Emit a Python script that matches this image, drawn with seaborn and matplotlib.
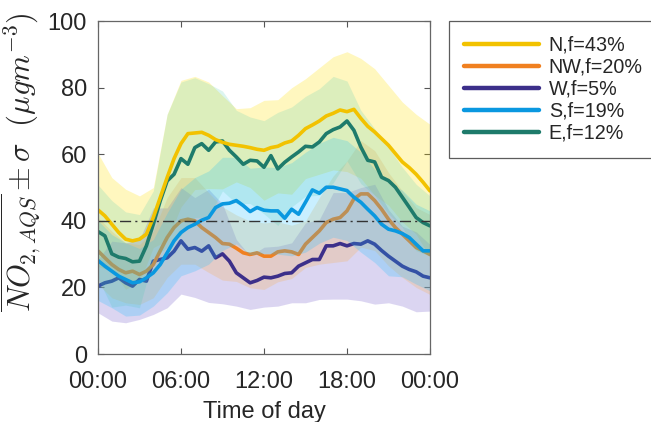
import numpy as np
import pandas as pd
import matplotlib
matplotlib.use("Agg")
import matplotlib.pyplot as plt
import seaborn as sns

# half-hourly means (00:00 .. 24:00)
hours = np.arange(49) * 0.5
n_mean = [43.3, 41.5, 39, 36.5, 34.5, 34, 34.5, 36, 41, 47, 53, 58.7, 63.2, 66.2, 66.4, 66.6, 65.7,
          64.4, 63.6, 63, 62.7, 62.4, 62, 61.5, 61.2, 62, 62.4, 63.4, 64, 65.7, 67.7, 68.8, 70,
          71.5, 72.3, 73.3, 72.8, 73.5, 70.8, 68.4, 66.7, 64.7, 62.7, 60.2, 57.7, 56, 54, 51.6, 49]
nw_mean = [31, 28.9, 26.9, 25.4, 24.4, 24.9, 23.9, 24.9, 26.9, 31, 35, 38, 40, 40.5, 40, 38, 36.5,
           35, 33.2, 33, 31.8, 30.4, 29.9, 30.4, 29.4, 29.4, 30.7, 31, 30.7, 29.9, 33, 35, 37,
           39.5, 40.5, 41, 43, 46.6, 48.1, 48.1, 46.1, 43.5, 40.5, 38, 36, 34, 32, 31, 29.9]
w_mean = [20.4, 21.4, 21.9, 22.9, 21.4, 20.4, 22.4, 21.9, 27.9, 28.4, 28.9, 30.9, 34, 31.5, 32, 30.9,
          32.5, 28.9, 30.1, 27.9, 24.4, 22.9, 21.4, 22.1, 23.1, 22.9, 23.4, 24.2, 24.4, 26.4, 27.4,
          28.4, 28.4, 32.5, 32.5, 33.2, 32.5, 33.2, 33, 34, 33, 31.1, 29.4, 27.9, 26.4, 25.4, 24.7,
          23.4, 22.9]
s_mean = [28.1, 26.4, 24.9, 23.4, 22.4, 21.4, 21.7, 22.9, 24.4, 26.9, 30.4, 34, 36.5, 38, 39, 40.2,
          41, 44, 45.1, 45.3, 46.1, 44.6, 42.8, 44, 43.2, 43, 43, 40.8, 43.5, 42, 45.6, 49.3, 48.3,
          50.1, 50.1, 49.6, 49.1, 47.1, 45.6, 43.5, 41.5, 39, 37.5, 37, 36.2, 35, 33, 31, 31]
e_mean = [36.8, 35.5, 30.1, 29.1, 28.7, 27.7, 27.9, 32.5, 39, 46, 52, 54, 58.7, 57, 62, 63.2, 61.2,
          63.7, 64, 61.2, 59.2, 57, 58.2, 58, 56.1, 59.6, 55.6, 57.6, 59.2, 60.7, 62.4, 62.2, 63.7,
          66.2, 67.4, 68.2, 70, 67.2, 62.2, 58.2, 57.7, 53.1, 52.1, 50.1, 47.1, 44.1, 41, 39.5, 38.5]

# hourly standard deviations (00:00 .. 24:00)
n_sigma = [17, 14, 15, 13, 9, 19, 19, 17, 16, 14, 11, 12, 15, 14, 16, 15, 16, 17, 18, 18, 19, 18, 18, 18, 20]
nw_sigma = [10, 10, 9, 9, 10, 12, 13, 13, 12, 11, 10, 10, 10, 9, 8, 7, 10, 13, 15, 16, 15, 14, 13, 12, 12]
w_sigma = [8, 12, 12, 12, 16, 15, 16, 15, 17, 15, 10, 8, 9, 9, 9, 12, 12, 16, 16, 17, 18, 14, 12, 12, 10]
s_sigma = [12, 11, 11, 10, 10, 12, 13, 14, 14, 14, 13, 13, 13, 13, 14, 15, 15, 15, 15, 15, 14, 14, 13, 12, 12]
e_sigma = [14, 16, 14, 14, 10, 20, 23, 21, 20, 15, 14, 13, 14, 17, 15, 15, 16, 16, 12, 11, 10, 10, 9, 10, 9]

labels = ["N,f=43%", "NW,f=20%", "W,f=5%", "S,f=19%", "E,f=12%"]
line_colors = ["#F2C200", "#F08020", "#3C2F8A", "#0A98E0", "#1E7B6B"]
band_colors = ["#FFE000", "#F8B050", "#735BCB", "#1EC0FF", "#40C8B0"]
band_alpha = [0.25, 0.25, 0.25, 0.24, 0.18]
means = [n_mean, nw_mean, w_mean, s_mean, e_mean]
sigmas = [n_sigma, nw_sigma, w_sigma, s_sigma, e_sigma]
xtick_labels = ["00:00", "06:00", "12:00", "18:00", "00:00"]

sns.set_style("white")
plt.rcParams["font.family"] = ["Liberation Sans", "DejaVu Sans"]
plt.rcParams["mathtext.fontset"] = "cm"

fig = plt.figure(figsize=(6.51, 4.22), dpi=100)
ax = fig.add_axes([0.1505, 0.161, 0.51, 0.789])


def draw_band(i, z):
    df = pd.DataFrame({"hour": hours, "value": means[i]}).iloc[::2].reset_index(drop=True)
    df["sigma"] = sigmas[i]
    ax.fill_between(df["hour"], df["value"] - df["sigma"], df["value"] + df["sigma"],
                    color=band_colors[i], alpha=band_alpha[i], lw=0, zorder=z)


def draw_line(i, z):
    df = pd.DataFrame({"hour": hours, "value": means[i]})
    sns.lineplot(data=df, x="hour", y="value", color=line_colors[i], lw=2.6, ax=ax,
                 label=labels[i], zorder=z)


# layering as in the original: S/E bands sit over the NW and W lines
draw_band(0, 1)
draw_band(2, 2)
draw_band(1, 3)
draw_line(2, 4)
draw_line(1, 5)
draw_band(3, 6)
draw_band(4, 7)
draw_line(3, 8)
draw_line(4, 9)
draw_line(0, 10)

ax.axhline(40, color="#333333", lw=1.0, ls=(0, (8, 3, 1.5, 3)), zorder=11)

ax.set_xlim(0, 24)
ax.set_ylim(0, 100)
ax.set_xticks([0, 6, 12, 18, 24])
ax.set_xticklabels(xtick_labels)
ax.set_yticks([0, 20, 40, 60, 80, 100])
ax.tick_params(direction="in", bottom=True, left=True, top=True, right=True, length=4,
               width=0.8, color="#555555", labelsize=17)
ax.tick_params(axis="x", pad=12)
ax.tick_params(axis="y", pad=8)
for sp in ax.spines.values():
    sp.set_color("#666666")
    sp.set_linewidth(0.9)
    sp.set_zorder(12)
ax.set_xlabel("Time of day", fontsize=17, labelpad=6)
ax.set_ylabel(r"$\overline{NO_{2,AQS}} \pm \sigma\ \ (\mu g m^{-3})$", fontsize=22)
ax.yaxis.set_label_coords(-0.166, 0.578)

handles, lbls = ax.get_legend_handles_labels()
order = [lbls.index(l) for l in labels]
ax.get_legend().remove()
leg = fig.legend([handles[k] for k in order], labels, loc="upper left",
                 bbox_to_anchor=(0.69, 0.95), borderaxespad=0, fontsize=14.2, frameon=True,
                 fancybox=False, handlelength=3.8, labelspacing=0.15, borderpad=0.75,
                 handletextpad=0.5)
leg.get_frame().set_edgecolor("#333333")
leg.get_frame().set_linewidth(0.9)
for line in leg.get_lines():
    line.set_linewidth(3.2)

fig.savefig("out.png", dpi=100)
